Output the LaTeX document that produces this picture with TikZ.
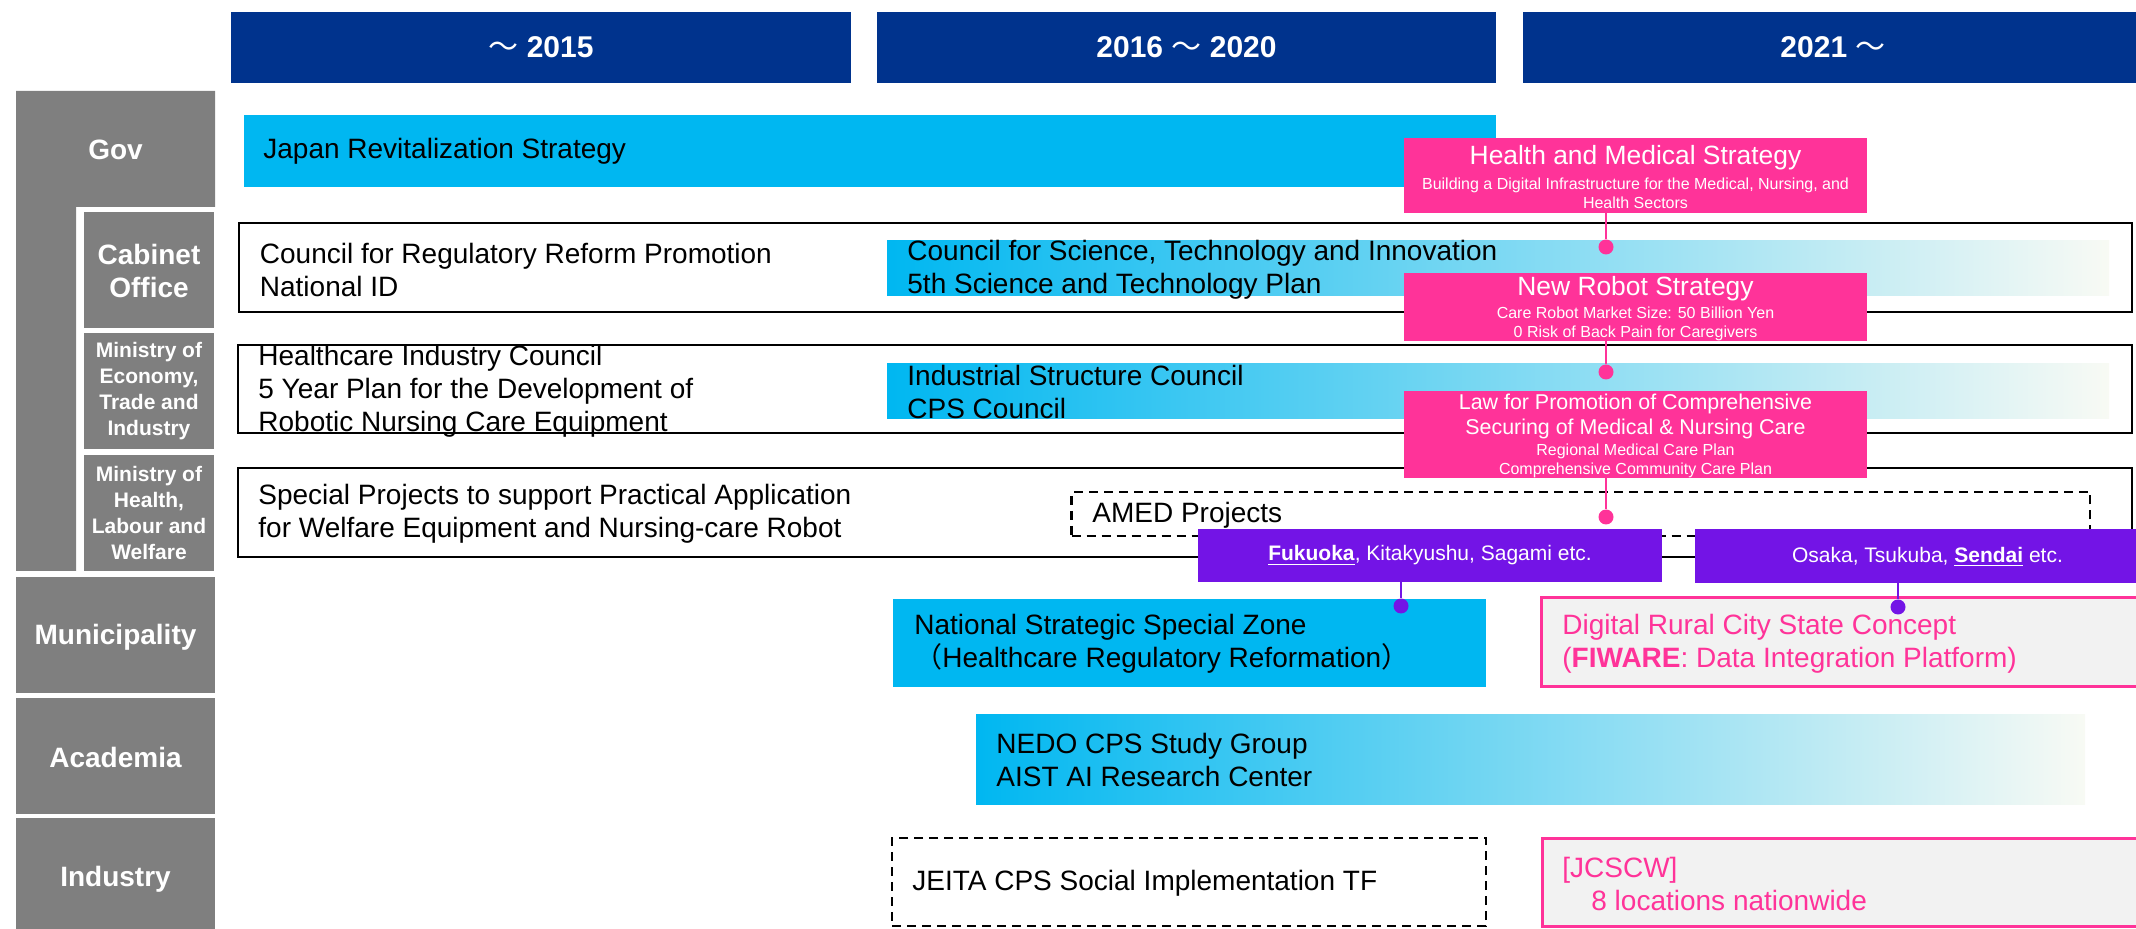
\documentclass[tikz,border=0pt]{standalone}
\usepackage{fontspec}
\setmainfont{Liberation Sans}
\newfontfamily\cjk{Noto Sans CJK JP}
\usetikzlibrary{fit}
\definecolor{hdrblue}{RGB}{0,51,141}
\definecolor{greyL}{RGB}{127,127,127}
\definecolor{cyanA}{RGB}{0,183,241}
\definecolor{fadeW}{RGB}{248,250,244}
\definecolor{pinkA}{RGB}{255,51,153}
\definecolor{purpA}{RGB}{115,20,230}
\definecolor{lightG}{RGB}{242,242,242}
\newcommand\fsBody{\fontsize{14}{16.5}\selectfont}
\newcommand\fsHdr{\fontsize{15}{18}\selectfont\bfseries}
\newcommand\fsLab{\fontsize{14}{16.5}\selectfont\bfseries}
\newcommand\fsMin{\fontsize{10.5}{13}\selectfont\bfseries}
\newcommand\fsPT{\fontsize{13.2}{15}\selectfont}
\newcommand\fsPL{\fontsize{10.7}{12.5}\selectfont}
\newcommand\fsPS{\fontsize{8}{9.3}\selectfont}
\newcommand\fsPur{\fontsize{10.5}{12}\selectfont}
\newcommand\wave{{\cjk\mdseries ～}}
\tikzset{
  area/.style={inner sep=0pt, outer sep=0pt},
  hdr/.style={area, fill=hdrblue},
  hdrtxt/.style={inner sep=0pt, text=white, font=\fsHdr},
  lab/.style={area, fill=greyL},
  labtxt/.style={inner sep=0pt, text=white, font=\fsLab, align=center},
  mintxt/.style={labtxt, font=\fsMin},
  frame/.style={area, draw=black, line width=1.4pt, fill=white},
  cyanbar/.style={area, fill=cyanA},
  gradbar/.style={area, left color=cyanA, right color=fadeW},
  dashbox/.style={area, draw=black, line width=1.4pt, dash pattern=on 4.5pt off 3pt},
  pinkbox/.style={area, fill=pinkA},
  purpbox/.style={area, fill=purpA},
  pinkframe/.style={area, draw=pinkA, line width=1.5pt, fill=lightG},
  txt/.style={anchor=west, inner sep=0pt, align=left, font=\fsBody},
  ptxt/.style={inner sep=0pt, text=white, align=center},
  pdot/.style={circle, fill=pinkA, inner sep=0pt, minimum size=7.5pt},
  udot/.style={circle, fill=purpA, inner sep=0pt, minimum size=7.5pt},
  pline/.style={draw=pinkA, line width=1pt},
  uline/.style={draw=purpA, line width=1.3pt}
}
\begin{document}
\begin{tikzpicture}[x=0.5pt,y=-0.5pt]
\useasboundingbox (0,0) rectangle (2136,929);
% headers
\node[hdr, fit={(231,12)(851,83)}] (h1) {};
\node[hdr, fit={(877,12)(1496,83)}] (h2) {};
\node[hdr, fit={(1523,12)(2143,83)}] (h3) {};
\node[hdrtxt] (h1t) at (h1.center) {\wave\ 2015};
\node[hdrtxt] (h2t) at (h2.center) {2016 \wave\ 2020};
\node[hdrtxt] (h3t) at (h3.center) {2021 \wave};
% left labels
\fill[greyL] (16,91) -- (215,91) -- (215,207) -- (76,207) -- (76,571) -- (16,571) -- cycle;
\coordinate (gov) at (115.5,150);
\node[lab, fit={(84,212)(214,328)}] (cab) {};
\node[lab, fit={(84,333)(214,449)}] (meti) {};
\node[lab, fit={(84,455)(214,571)}] (mhlw) {};
\node[lab, fit={(16,577)(215,693)}] (muni) {};
\node[lab, fit={(16,698)(215,814)}] (acad) {};
\node[lab, fit={(16,818)(215,935)}] (ind) {};
\node[labtxt] (govt) at (gov) {Gov};
\node[labtxt] (cabt) at ([yshift=-0.5pt]cab.center) {Cabinet\\Office};
\node[mintxt] (metit) at (meti.center) {Ministry of\\Economy,\\Trade and\\Industry};
\node[mintxt] (mhlwt) at (mhlw.center) {Ministry of\\Health,\\Labour and\\Welfare};
\node[labtxt] (munit) at ([yshift=-1pt]muni.center) {Municipality};
\node[labtxt] (acadt) at ([yshift=-0.5pt]acad.center) {Academia};
\node[labtxt] (indt) at (115.5,879) {Industry};
% Gov row
\node[cyanbar, fit={(244,115)(1496,187)}] (jrs) {};
\node[txt] (jrs_t) at (263,151) {Japan Revitalization Strategy};
% Cabinet row
\node[frame, fit={(239,223)(2132,312)}] (cabrow) {};
\node[txt] (crr_t) at (259.5,269.5) {Council for Regulatory Reform Promotion\\National ID};
\node[gradbar, fit={(887,241)(2109,296)}] (csti) {};
\node[txt] (csti_t) at (907,270) {Council for Science, Technology and Innovation\\5th Science and Technology Plan};
% METI row
\node[frame, fit={(238,345)(2132,433)}] (metirow) {};
\node[txt] (hic_t) at (258,391) {Healthcare Industry Council\\5 Year Plan for the Development of\\Robotic Nursing Care Equipment};
\node[gradbar, fit={(887,364)(2109,419)}] (isc) {};
\node[txt] (isc_t) at (907,392) {Industrial Structure Council\\CPS Council};
% MHLW row
\node[frame, fit={(238,468)(2132,557)}] (mhlwrow) {};
\node[txt] (spp_t) at (258,513.5) {Special Projects to support Practical Application\\for Welfare Equipment and Nursing-care Robot};
\node[dashbox, fit={(1071.5,492)(2090,536)}] (amed) {};
\node[txt] (amed_t) at (1092,515) {AMED Projects};
% pink boxes
\node[pinkbox, fit={(1404,138)(1867,213)}] (hms) {};
\node[ptxt, font=\fsPT] (hms_t) at (1635.5,158) {Health and Medical Strategy};
\node[ptxt, font=\fsPS] (hms_s) at (1635.5,193.5) {Building a Digital Infrastructure for the Medical, Nursing, and\\Health Sectors};
\node[pinkbox, fit={(1404,273)(1867,341)}] (nrs) {};
\node[ptxt, font=\fsPT] (nrs_t) at (1635.5,289) {New Robot Strategy};
\node[ptxt, font=\fsPS] (nrs_s) at (1635.5,324) {Care Robot Market Size: 50 Billion Yen\\0 Risk of Back Pain for Caregivers};
\node[pinkbox, fit={(1404,391)(1867,478)}] (law) {};
\node[ptxt, font=\fsPL] (law_t) at (1635.5,416.5) {Law for Promotion of Comprehensive\\Securing of Medical \& Nursing Care};
\node[ptxt, font=\fsPS] (law_s) at (1635.5,461) {Regional Medical Care Plan\\Comprehensive Community Care Plan};
\node[pdot] (d1) at (1606,247) {};
\node[pdot] (d2) at (1606,372) {};
\node[pdot] (d3) at (1606,517) {};
\draw[pline] (hms.south -| d1) -- (d1);
\draw[pline] (nrs.south -| d2) -- (d2);
\draw[pline] (law.south -| d3) -- (d3);
% purple boxes
\node[purpbox, fit={(1198,529)(1662,582)}] (fuk) {};
\node[ptxt, font=\fsPur] (fuk_t) at (fuk.center) {\underline{\textbf{Fukuoka}}, Kitakyushu, Sagami etc.};
\node[purpbox, fit={(1695,529)(2160,583)}] (osa) {};
\node[ptxt, font=\fsPur] (osa_t) at (1927.5,557) {Osaka, Tsukuba, \underline{\textbf{Sendai}} etc.};
% Municipality row
\node[cyanbar, fit={(893,599)(1486,687)}] (nss) {};
\node[txt] (nss_t) at (914,644) {National Strategic Special Zone\\{\cjk （}Healthcare Regulatory Reformation{\cjk ）}};
\node[pinkframe, fit={(1541.5,598)(2145,687)}] (drc) {};
\node[txt, text=pinkA] (drc_t) at (1562,644) {Digital Rural City State Concept\\(\textbf{FIWARE}: Data Integration Platform)};
\node[udot] (d4) at (1401,606) {};
\node[udot] (d5) at (1898,607) {};
\draw[uline] (fuk.south -| d4) -- (d4);
\draw[uline] (osa.south -| d5) -- (d5);
% Academia row
\node[gradbar, fit={(976,715)(2085,804)}] (nedo) {};
\node[txt] (nedo_t) at (996,760) {NEDO CPS Study Group\\AIST AI Research Center};
% Industry row
\node[dashbox, fit={(892,838)(1486,926)}] (jeita) {};
\node[txt] (jeita_t) at (912,883) {JEITA CPS Social Implementation TF};
\node[pinkframe, fit={(1542,838)(2145,926)}] (jcscw) {};
\node[txt, text=pinkA] (jcscw_t) at (1562,884) {[JCSCW]\\\hspace*{14.5pt}8 locations nationwide};
\end{tikzpicture}
\end{document}
